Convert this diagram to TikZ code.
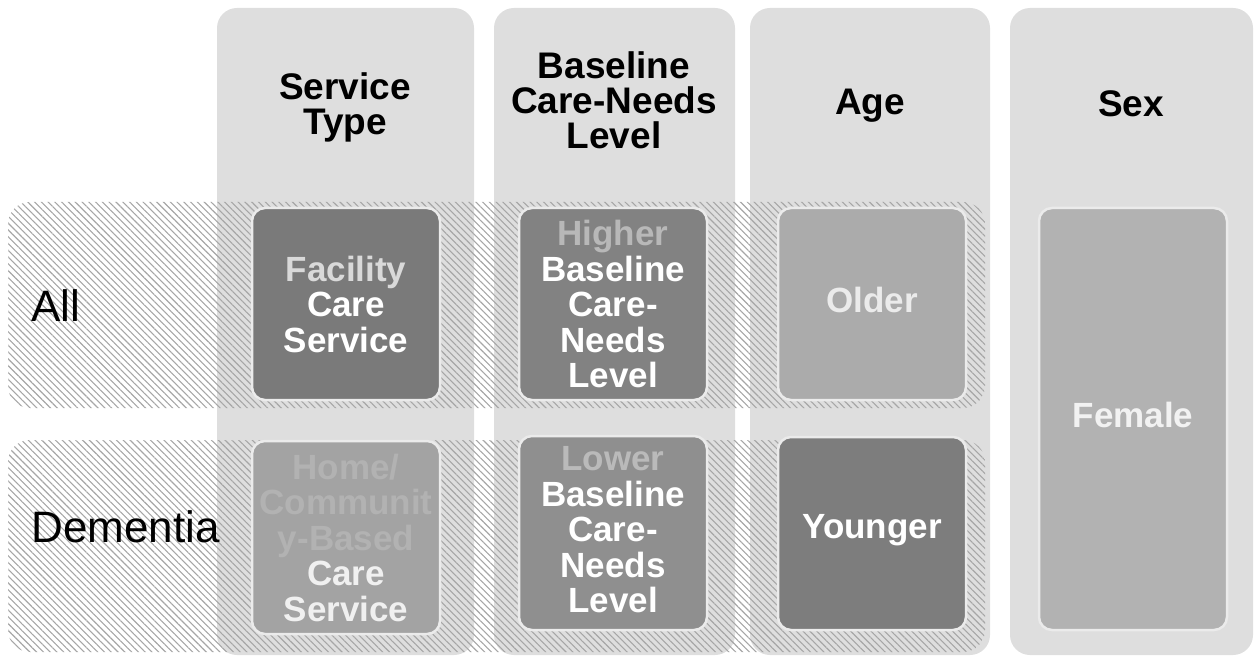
\documentclass[tikz,border=0pt]{standalone}
\usepackage{fontspec}
\setmainfont{Liberation Sans}
\usetikzlibrary{patterns.meta}
\definecolor{bandgray}{HTML}{DEDEDE}
\definecolor{hatchgray}{HTML}{A6A6A6}
\begin{document}
\begin{tikzpicture}[x=1pt,y=-1pt,
  colband/.style={fill=bandgray, rounded corners=20pt, draw=none, inner sep=0pt},
  rowband/.style={pattern={Lines[angle=-45,distance=4.8pt,line width=1.1pt]}, pattern color=hatchgray, rounded corners=22pt, draw=none, inner sep=0pt},
  cell/.style={rounded corners=13pt, draw=white!92!black, line width=2.5pt, inner sep=0pt, minimum width=188pt},
  head/.style={font=\bfseries\fontsize{37}{35}\selectfont, align=center, text=black},
  rowlab/.style={font=\fontsize{44}{44}\selectfont, anchor=west, text=black},
  celltext/.style={font=\bfseries\fontsize{35}{35.5}\selectfont, align=center, text=white}
]
\useasboundingbox (0,0) rectangle (1256,663);
% column bands
\node[colband, minimum width=257pt, minimum height=647pt] (c1) at (345.5,331.5) {};
\node[colband, minimum width=241pt, minimum height=647pt] (c2) at (614.5,331.5) {};
\node[colband, minimum width=240pt, minimum height=647pt] (c3) at (870,331.5) {};
\node[colband, minimum width=243pt, minimum height=647pt] (c4) at (1131.5,331.5) {};
% row bands
\node[rowband, minimum width=977pt, minimum height=206pt] (r1) at (496.5,305) {};
\node[rowband, minimum width=977pt, minimum height=212pt] (r2) at (496.5,546) {};
% headers
\node[head] (h1) at (345,107) {Service\\Type};
\node[head] (h2) at (614,100) {Baseline\\Care-Needs\\Level};
\node[head] (h3) at (870,106) {Age};
\node[head] (h4) at (1131,104) {Sex};
% row labels
\node[rowlab] (l1) at (28,306) {All};
\node[rowlab] (l2) at (28,527) {Dementia};
% cells
\node[cell, fill=black!52, minimum height=192pt] (b11) at (346,304) {};
\node[cell, fill=black!49, minimum height=192pt] (b12) at (613,304) {};
\node[cell, fill=black!33, minimum height=192pt] (b13) at (872,304) {};
\node[cell, fill=black!36, minimum height=193pt] (b21) at (346,537.5) {};
\node[cell, fill=black!44, minimum height=194pt] (b22) at (613,533) {};
\node[cell, fill=black!51, minimum height=193pt] (b23) at (872,533.5) {};
\node[cell, fill=black!30, minimum height=422pt] (b4) at (1133,419) {};
% cell texts
\node[celltext] (t11) at (b11) {\textcolor{black!15}{Facility}\\Care\\Service};
\node[celltext] (t12) at (b12) {\textcolor{black!28}{Higher}\\Baseline\\Care-\\Needs\\Level};
\node[celltext, text=black!8] (t13) at (872,300) {Older};
\node[celltext] (t21) at (b21) {\textcolor{black!30}{Home/}\\\textcolor{black!30}{Communit}\\\textcolor{black!30}{y-Based}\\\textcolor{black!6}{Care}\\\textcolor{black!6}{Service}};
\node[celltext] (t22) at (613,530) {\textcolor{black!27}{Lower}\\Baseline\\Care-\\Needs\\Level};
\node[celltext] (t23) at (872,530) {Younger};
\node[celltext, text=black!5] (t4) at (1133,415) {Female};
\end{tikzpicture}
\end{document}
